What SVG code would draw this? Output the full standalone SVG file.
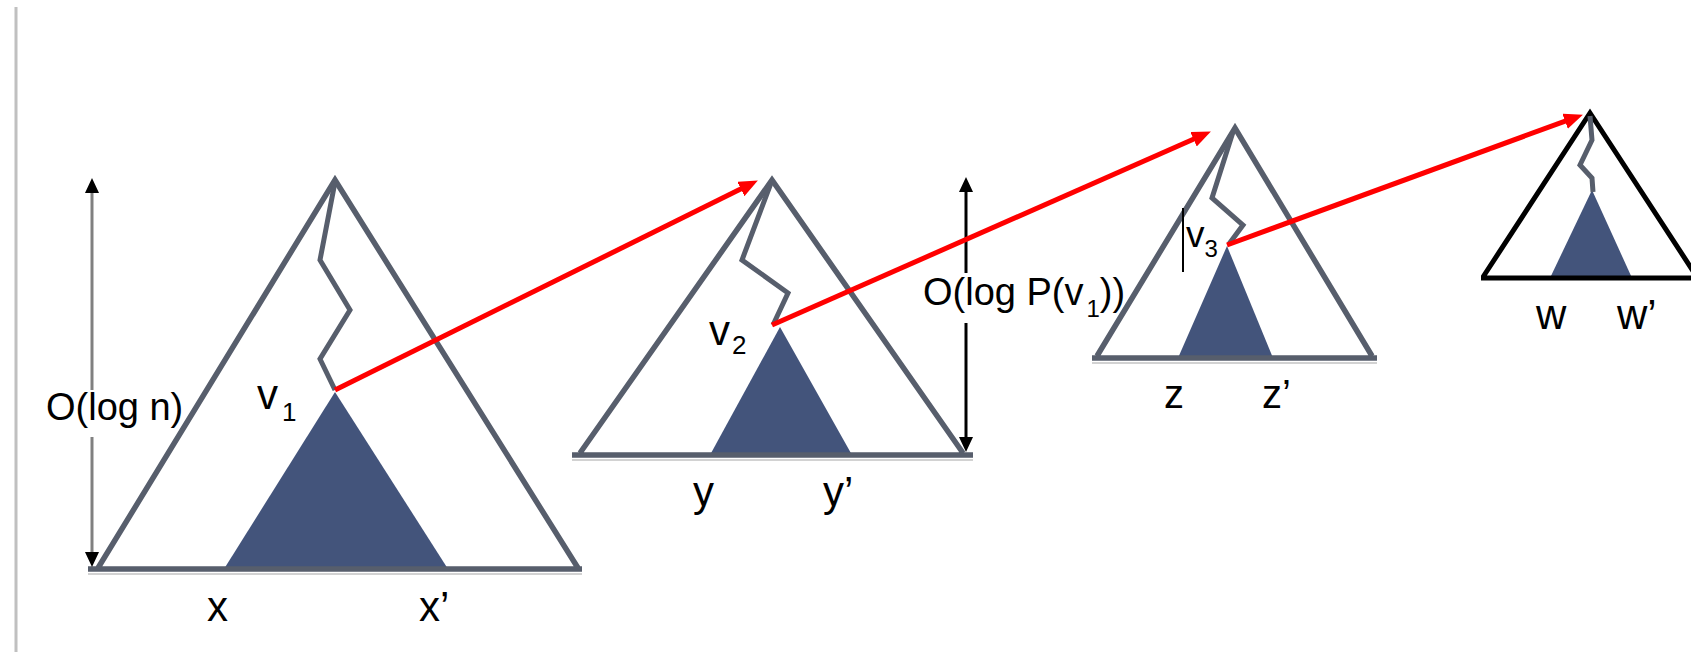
<svg xmlns="http://www.w3.org/2000/svg" width="1691" height="659" viewBox="0 0 1691 659">
<style>
.tree{fill:none;stroke:#575e6c;stroke-width:5.5;stroke-linejoin:miter}
.tree4{fill:none;stroke:#000;stroke-width:5}
.zig{fill:none;stroke:#575e6c;stroke-width:5}
.sub{fill:#43547b}
.shadow{stroke:#d2d2d2;stroke-width:2}
.red{fill:none;stroke:#ff0000;stroke-width:5}
.dim1{stroke:#808080;stroke-width:3}
.dim2{stroke:#000;stroke-width:3}
text{font-family:"Liberation Sans",Arial,sans-serif;fill:#000}
.lbl{font-size:42px}
.ann{font-size:38px}
</style>
<defs>
<marker id="redHead" markerUnits="userSpaceOnUse" markerWidth="21" markerHeight="17" refX="6" refY="8" orient="auto">
<path d="M0,0 L19,8 L0,16 z" fill="#ff0000"/>
</marker>
<marker id="blkHead" markerUnits="userSpaceOnUse" markerWidth="16" markerHeight="16" refX="4" refY="7" orient="auto">
<path d="M0,0 L15,7 L0,14 z" fill="#000"/>
</marker>
</defs>
<line x1="16" y1="7" x2="16" y2="652" stroke="#c0c0c0" stroke-width="3"/>

<g id="tree1">
<line class="shadow" x1="88" y1="574" x2="582" y2="574"/>
<polygon class="sub" points="335,392 224,569 448,569"/>
<path class="tree" d="M88,569 L582,569 M98,568 L335,180 L578,568"/>
<polyline class="zig" points="335,182 320,260 350,310 320,359 335,390"/>
<text class="lbl" x="257" y="409">v<tspan font-size="26" dx="4" dy="12">1</tspan></text>
<text class="lbl" x="207" y="621">x</text>
<text class="lbl" x="419" y="621">x’</text>
</g>

<g id="tree2">
<line class="shadow" x1="572" y1="460" x2="973" y2="460"/>
<polygon class="sub" points="780,327 710,455 852,455"/>
<path class="tree" d="M572,455 L973,455 M580,453 L772,180 L963,453"/>
<polyline class="zig" points="771,183 742,260 788,293 773,325"/>
<text class="lbl" x="709" y="345">v<tspan font-size="26" dx="2" dy="9">2</tspan></text>
<text class="lbl" x="693" y="506">y</text>
<text class="lbl" x="823" y="506">y’</text>
</g>

<g id="tree3">
<line class="shadow" x1="1092" y1="363" x2="1377" y2="363"/>
<polygon class="sub" points="1227,246 1178,358 1273,358"/>
<path class="tree" d="M1092,358 L1377,358 M1097,356 L1235,128 L1372,356"/>
<polyline class="zig" points="1233,132 1212,198 1243,225 1229,244"/>
<line x1="1183" y1="208" x2="1183" y2="272" stroke="#000" stroke-width="2"/>
<text x="1186" y="247" font-size="37">v<tspan font-size="24" dx="0" dy="10">3</tspan></text>
<text x="1164" y="408" font-size="40">z</text>
<text x="1262" y="408" font-size="40">z’</text>
</g>

<g id="tree4">
<polygon class="sub" points="1592,190 1550,278 1632,278"/>
<path class="tree4" d="M1481,278 L1691,278 M1483,277 L1590,113 L1697,277"/>
<polyline class="zig" points="1590,116 1592,140 1580,165 1592,178 1593,192" stroke-width="4"/>
<text class="lbl" x="1536" y="329">w</text>
<text class="lbl" x="1617" y="329">w’</text>
</g>

<g id="heights">
<line class="dim1" x1="92" y1="390" x2="92" y2="189" marker-end="url(#blkHead)"/>
<line class="dim1" x1="92" y1="437" x2="92" y2="556" marker-end="url(#blkHead)"/>
<text class="ann" x="46" y="420">O(log n)</text>
<line class="dim2" x1="966" y1="273" x2="966" y2="188" marker-end="url(#blkHead)"/>
<line class="dim2" x1="966" y1="323" x2="966" y2="441" marker-end="url(#blkHead)"/>
<text class="ann" x="923" y="305">O(log P(v<tspan font-size="24" dx="3" dy="12">1</tspan><tspan dy="-12">))</tspan></text>
</g>

<g id="connectors">
<line class="red" x1="335" y1="390" x2="746.2" y2="186.3" marker-end="url(#redHead)"/>
<line class="red" x1="772" y1="325" x2="1199" y2="136.8" marker-end="url(#redHead)"/>
<line class="red" x1="1227" y1="245" x2="1570.7" y2="119.1" marker-end="url(#redHead)"/>
</g>
</svg>
